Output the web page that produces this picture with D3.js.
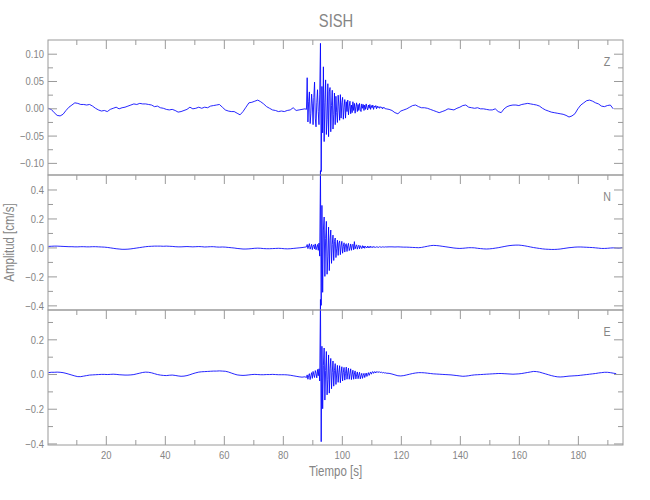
<!DOCTYPE html>
<html><head><meta charset="utf-8">
<script src="https://cdn.jsdelivr.net/npm/d3@7"></script>
<style>
body{margin:0;background:#fff}
text{font-family:"Liberation Sans","DejaVu Sans",sans-serif;fill:#858585}
</style>
</head><body><svg id="c" width="650" height="500"></svg>
<script>
// ---------------- data ----------------
const title = "SISH";
const xLabel = "Tiempo  [s]";
const yLabel = "Amplitud  [cm/s]";
const components = ["Z", "N", "E"];

const xTicksMajor = [20, 40, 60, 80, 100, 120, 140, 160, 180];
const xTicksMinor = [10, 30, 50, 70, 90, 110, 130, 150, 170, 190];
const zTicksMajor = [-0.10, -0.05, 0.00, 0.05, 0.10];
const zTicksMinor = [-0.075, -0.025, 0.025, 0.075];
const nTicksMajor = [-0.4, -0.2, 0.0, 0.2, 0.4];
const nTicksMinor = [-0.3, -0.1, 0.1, 0.3];
const eTicksMajor = [-0.4, -0.2, 0.0, 0.2];
const eTicksMinor = [-0.3, -0.1, 0.1, 0.3];

// sampling of the three segments (seconds)
const preStart = 0.5, preStep = 1;
const eventStart = 88, eventStep = 0.25;
const postStart = 116, postStep = 1;

// Z component (cm/s)
const zPre = [0.000,-0.002,-0.008,-0.013,-0.014,-0.011,-0.004,0.002,0.006,0.010,
0.009,0.007,0.007,0.006,0.007,0.004,0.000,-0.003,-0.005,-0.004,
-0.006,-0.002,0.000,0.002,-0.001,0.001,0.002,0.004,0.006,0.008,
0.007,0.009,0.008,0.008,0.007,0.006,0.003,0.004,0.001,0.000,
-0.002,-0.003,-0.002,-0.004,-0.007,-0.006,-0.004,-0.002,0.002,-0.001,
0.000,0.002,0.000,0.002,0.001,0.004,0.005,0.006,0.007,0.002,
-0.003,-0.005,-0.006,-0.006,-0.009,-0.012,-0.006,0.002,0.010,0.011,
0.013,0.015,0.012,0.008,0.003,0.000,-0.003,-0.004,-0.006,-0.005,
-0.006,-0.004,-0.003,0.001,-0.004,-0.003,-0.002,-0.001];
const zEvent = [-0.002,0.056,-0.025,0.012,0.030,-0.028,-0.010,0.026,
0.008,-0.030,0.020,0.048,-0.018,-0.034,0.010,0.034,
-0.006,-0.030,0.026,0.119,-0.116,0.040,-0.045,0.076,
-0.061,0.010,0.052,-0.048,-0.020,0.045,-0.052,0.030,
0.038,-0.043,0.005,0.033,-0.038,-0.012,0.028,-0.030,
0.022,-0.008,-0.026,0.024,0.004,-0.022,0.025,-0.018,
0.010,0.020,-0.020,0.002,0.016,-0.018,0.012,-0.006,
0.015,-0.012,0.004,0.013,-0.010,0.006,-0.008,0.012,
-0.004,0.009,-0.009,0.003,0.010,-0.006,0.007,-0.004,
0.009,-0.002,-0.006,0.008,0.000,0.007,-0.004,0.006,
-0.002,0.008,0.001,-0.003,0.006,0.000,0.007,-0.002,
0.005,0.001,0.006,-0.002,0.004,0.002,0.005,-0.001,
0.004,0.001,0.003,0.000,0.003,0.001,0.002,-0.001,
0.002,0.000,0.001,-0.001,-0.001];
const zPost = [-0.002,-0.004,-0.008,-0.010,-0.005,-0.003,-0.001,0.002,0.005,0.006,
0.003,0.001,0.001,0.000,-0.002,-0.004,-0.006,-0.008,-0.006,-0.004,
-0.001,-0.002,-0.003,0.000,0.002,0.005,0.006,0.002,0.001,0.000,
0.001,-0.001,-0.001,-0.002,-0.003,-0.003,-0.001,-0.006,-0.008,-0.001,
0.003,0.005,0.006,0.006,0.005,0.007,0.008,0.009,0.008,0.007,
0.006,0.004,0.000,-0.003,-0.005,-0.007,-0.008,-0.009,-0.010,-0.011,
-0.013,-0.016,-0.014,-0.010,-0.001,0.006,0.010,0.014,0.015,0.013,
0.010,0.008,0.004,0.003,0.005,0.006,-0.001];

// N component (cm/s)
const nPre = [0.007,0.008,0.009,0.009,0.008,0.007,0.006,0.005,0.005,0.004,
0.004,0.005,0.005,0.004,0.004,0.005,0.005,0.004,0.003,0.002,
0.000,-0.003,-0.006,-0.009,-0.011,-0.013,-0.013,-0.012,-0.010,-0.007,
-0.004,-0.001,0.002,0.005,0.007,0.008,0.009,0.009,0.009,0.008,
0.009,0.008,0.007,0.005,0.004,0.004,0.005,0.006,0.005,0.004,
0.005,0.006,0.005,0.003,0.004,0.005,0.005,0.003,0.002,0.003,
0.002,0.000,-0.002,-0.004,-0.007,-0.009,-0.011,-0.011,-0.010,-0.008,
-0.006,-0.005,-0.006,-0.008,-0.009,-0.009,-0.008,-0.007,-0.006,-0.007,
-0.009,-0.010,-0.009,-0.007,-0.005,-0.003,-0.001,0.002];
const nEvent = [0.004,0.020,-0.008,0.010,0.026,-0.012,0.004,0.022,
-0.015,0.010,0.018,-0.010,0.024,-0.016,0.002,0.020,
-0.020,0.030,-0.060,0.530,-0.400,0.290,-0.310,0.120,
0.210,-0.200,0.060,0.180,-0.185,-0.060,0.140,-0.160,
0.050,0.120,-0.110,0.020,0.085,-0.090,0.040,0.065,
-0.070,-0.010,0.050,-0.055,0.030,0.045,-0.050,0.010,
0.042,-0.040,0.005,0.032,-0.032,0.018,0.026,-0.028,
0.010,0.028,-0.022,-0.004,0.024,-0.020,0.012,0.022,
-0.016,0.040,-0.010,0.008,0.018,-0.012,0.006,0.015,
-0.010,0.012,0.002,-0.008,0.012,-0.004,0.010,-0.006,
0.008,0.002,-0.004,0.009,-0.002,0.007,-0.003,0.008,
0.000,0.006,-0.002,0.006,0.001,0.005,-0.001,0.005,
0.002,0.004,0.000,0.005,0.002,0.004,0.001,0.004,
0.002,0.004,0.002,0.004,0.003];
const nPost = [0.004,0.004,0.003,0.004,0.003,0.002,0.002,0.001,0.000,-0.001,
-0.002,0.000,0.004,0.008,0.012,0.014,0.013,0.011,0.008,0.005,
0.002,-0.001,-0.004,-0.006,-0.007,-0.006,-0.004,-0.002,-0.002,-0.003,
-0.006,-0.008,-0.010,-0.011,-0.010,-0.008,-0.005,-0.002,0.002,0.006,
0.010,0.013,0.015,0.016,0.016,0.014,0.011,0.007,0.003,-0.001,
-0.004,-0.007,-0.010,-0.012,-0.013,-0.014,-0.014,-0.013,-0.011,-0.008,
-0.005,-0.002,0.000,0.002,0.003,0.003,0.002,0.001,0.000,-0.001,
-0.003,-0.005,-0.007,-0.007,-0.006,-0.004,-0.003,-0.004,-0.005,-0.002];

// E component (cm/s)
const ePre = [0.008,0.010,0.010,0.011,0.010,0.008,0.004,-0.001,-0.006,-0.011,
-0.015,-0.015,-0.012,-0.009,-0.006,-0.005,-0.004,-0.003,-0.002,-0.002,
-0.003,-0.002,-0.001,-0.002,-0.004,-0.005,-0.006,-0.006,-0.005,-0.003,
0.001,0.005,0.009,0.011,0.010,0.007,0.002,-0.003,-0.006,-0.008,
-0.009,-0.007,-0.006,-0.008,-0.011,-0.013,-0.012,-0.009,-0.004,0.002,
0.007,0.011,0.013,0.014,0.015,0.016,0.017,0.017,0.018,0.017,
0.016,0.012,0.006,0.000,-0.005,-0.007,-0.008,-0.007,-0.005,-0.003,
-0.002,-0.003,-0.004,-0.004,-0.003,-0.003,-0.002,-0.003,-0.004,-0.004,
-0.004,-0.005,-0.007,-0.010,-0.013,-0.016,-0.018,-0.016];
const eEvent = [-0.020,-0.005,-0.030,-0.008,0.002,-0.032,-0.010,0.008,
-0.025,0.015,-0.005,-0.020,0.020,0.004,-0.022,0.026,
-0.010,0.030,-0.040,0.430,-0.390,0.160,-0.200,0.050,
0.150,-0.150,0.020,0.130,-0.120,-0.030,0.110,-0.110,
0.030,0.090,-0.085,0.010,0.075,-0.070,0.020,0.060,
-0.060,0.000,0.050,-0.048,0.010,0.048,-0.050,0.005,
0.042,-0.040,0.010,0.038,-0.035,0.004,0.040,-0.030,
0.006,0.034,-0.030,0.002,0.030,-0.032,-0.004,0.022,
-0.030,0.000,0.018,-0.028,-0.004,0.012,-0.027,-0.006,
0.010,-0.028,-0.010,0.004,-0.025,-0.008,0.004,-0.020,
-0.006,0.006,-0.014,-0.002,0.008,-0.008,0.004,0.012,
-0.001,0.010,0.014,0.004,0.012,0.014,0.006,0.013,
0.014,0.008,0.012,0.013,0.008,0.011,0.010,0.007,
0.009,0.008,0.006,0.007,0.005];
const ePost = [0.004,0.000,-0.005,-0.010,-0.011,-0.009,-0.005,-0.001,0.003,0.006,
0.008,0.008,0.007,0.005,0.003,0.001,0.000,-0.001,-0.002,-0.003,
-0.004,-0.005,-0.007,-0.009,-0.011,-0.013,-0.012,-0.010,-0.007,-0.005,
-0.004,-0.003,-0.002,-0.001,0.000,0.001,0.002,0.003,0.003,0.002,
0.001,0.000,-0.001,0.000,0.001,0.003,0.006,0.009,0.012,0.015,
0.014,0.011,0.006,0.001,-0.004,-0.009,-0.013,-0.016,-0.017,-0.016,
-0.014,-0.012,-0.011,-0.010,-0.009,-0.007,-0.005,-0.003,-0.001,0.001,
0.003,0.006,0.008,0.010,0.010,0.008,0.005,0.002];

// ---------------- layout ----------------
const left = 48, right = 623;
const xDomain = [0.4, 195.3];
const narrow = 0.82;

function buildSeries(pre, evt, post) {
  const pts = [];
  pre.forEach((v, i) => pts.push([preStart + i * preStep, v]));
  evt.forEach((v, i) => pts.push([eventStart + i * eventStep, v]));
  post.forEach((v, i) => pts.push([postStart + i * postStep, v]));
  return pts;
}

const panels = [
  {name: components[0], top: 40, bottom: 175, domain: [-0.1222, 0.1251], major: zTicksMajor, minor: zTicksMinor, fmt: ".2f", data: buildSeries(zPre, zEvent, zPost)},
  {name: components[1], top: 175, bottom: 310, domain: [-0.432, 0.5], major: nTicksMajor, minor: nTicksMinor, fmt: ".1f", data: buildSeries(nPre, nEvent, nPost)},
  {name: components[2], top: 310, bottom: 445, domain: [-0.409, 0.369], major: eTicksMajor, minor: eTicksMinor, fmt: ".1f", data: buildSeries(ePre, eEvent, ePost)}
];

const svg = d3.select("#c");
const x = d3.scaleLinear().domain(xDomain).range([left, right]);
const axisColor = "#9a9a9a";

function styleAxis(g) {
  g.select(".domain").remove();
  g.selectAll(".tick line").attr("stroke", axisColor).attr("stroke-width", 1);
  g.selectAll(".tick text").attr("fill", "#858585").attr("font-size", 11.5)
    .attr("font-family", '"Liberation Sans","DejaVu Sans",sans-serif')
    .attr("transform", `scale(${narrow},1)`);
}

function label(txt, tx, ty, size, rot) {
  return svg.append("text")
    .attr("transform", `translate(${tx},${ty})` + (rot ? ` rotate(${rot})` : "") + ` scale(${narrow},1)`)
    .attr("text-anchor", "middle").attr("font-size", size).text(txt);
}

panels.forEach((p, idx) => {
  const y = d3.scaleLinear().domain(p.domain).range([p.bottom, p.top]);
  const last = idx === panels.length - 1;

  // trace
  const line = d3.line().x(d => x(d[0])).y(d => y(d[1]));
  svg.append("path").datum(p.data)
    .attr("d", line).attr("fill", "none")
    .attr("stroke", "#0000ff").attr("stroke-width", 0.85)
    .attr("stroke-linejoin", "round");

  // left axis
  svg.append("g").attr("transform", `translate(${left},0)`)
    .call(d3.axisLeft(y).tickValues(p.major).tickSizeInner(-9).tickSizeOuter(0).tickPadding(5).tickFormat(d3.format(p.fmt)))
    .call(styleAxis);
  svg.append("g").attr("transform", `translate(${left},0)`)
    .call(d3.axisLeft(y).tickValues(p.minor).tickSizeInner(-5).tickSizeOuter(0).tickFormat(""))
    .call(styleAxis);
  // right axis
  svg.append("g").attr("transform", `translate(${right},0)`)
    .call(d3.axisRight(y).tickValues(p.major).tickSizeInner(-9).tickSizeOuter(0).tickFormat(""))
    .call(styleAxis);
  svg.append("g").attr("transform", `translate(${right},0)`)
    .call(d3.axisRight(y).tickValues(p.minor).tickSizeInner(-5).tickSizeOuter(0).tickFormat(""))
    .call(styleAxis);
  // top axis ticks
  svg.append("g").attr("transform", `translate(0,${p.top})`)
    .call(d3.axisTop(x).tickValues(xTicksMajor).tickSizeInner(-9).tickSizeOuter(0).tickFormat(""))
    .call(styleAxis);
  svg.append("g").attr("transform", `translate(0,${p.top})`)
    .call(d3.axisTop(x).tickValues(xTicksMinor).tickSizeInner(-5).tickSizeOuter(0).tickFormat(""))
    .call(styleAxis);
  if (last) {
    svg.append("g").attr("transform", `translate(0,${p.bottom})`)
      .call(d3.axisBottom(x).tickValues(xTicksMajor).tickSizeInner(-9).tickSizeOuter(0).tickPadding(6).tickFormat(d3.format("d")))
      .call(styleAxis);
    svg.append("g").attr("transform", `translate(0,${p.bottom})`)
      .call(d3.axisBottom(x).tickValues(xTicksMinor).tickSizeInner(-5).tickSizeOuter(0).tickFormat(""))
      .call(styleAxis);
  }

  // frame
  svg.append("rect").attr("x", left).attr("y", p.top)
    .attr("width", right - left).attr("height", p.bottom - p.top)
    .attr("fill", "none").attr("stroke", axisColor).attr("stroke-width", 1);

  // component label
  label(p.name, 607, p.top + 26, 13);
});

// titles
label(title, 336, 27, 18);
label(xLabel, (left + right) / 2, 476, 14);
label(yLabel, 14, 242.5, 14, -90);
</script>
</body></html>
